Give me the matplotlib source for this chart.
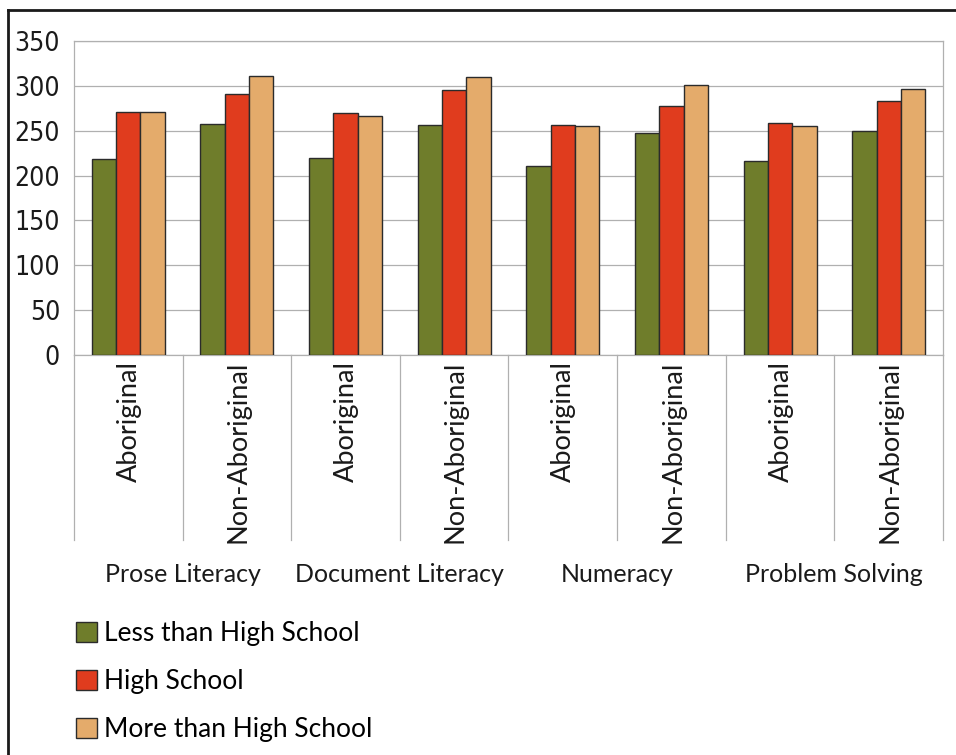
import matplotlib
matplotlib.use("Agg")
import matplotlib.pyplot as plt
from matplotlib.lines import Line2D
import numpy as np

# Literacy scores by skill domain, population group and education level
domains = ["Prose Literacy", "Document Literacy", "Numeracy", "Problem Solving"]
groups = ["Aboriginal", "Non-Aboriginal"]
series_names = ["Less than High School", "High School", "More than High School"]

less_than_hs = [219, 258, 220, 256, 211, 248, 216, 250]
high_school = [271, 291, 270, 295, 256, 278, 259, 283]
more_than_hs = [271, 311, 266, 310, 255, 301, 255, 297]

y_ticks = [0, 50, 100, 150, 200, 250, 300, 350]

colors = ["#6f7d2b", "#e03c1e", "#e4ab6b"]
grid_color = "#b0b0b0"

text_font = ["Lato", "DejaVu Sans"]

W, H = 956, 755
fig = plt.figure(figsize=(W / 100, H / 100), dpi=100)

ax_left, ax_right, ax_top, ax_bottom = 74, 943, 41, 355
ax = fig.add_axes([ax_left / W, 1 - ax_bottom / H,
                   (ax_right - ax_left) / W, (ax_bottom - ax_top) / H])

series = [less_than_hs, high_school, more_than_hs]
n = len(less_than_hs)
x = np.arange(n)
bw = 0.224
handles = []
for k, (vals, c, name) in enumerate(zip(series, colors, series_names)):
    b = ax.bar(x + (k - 1) * bw, vals, width=bw, color=c, edgecolor="#2b2b2b",
               linewidth=1.0, label=name, zorder=3)
    handles.append(b)

ax.set_xlim(-0.5, n - 0.5)
ax.set_ylim(0, 350)
ax.set_yticks(y_ticks)
ax.set_yticklabels([str(v) for v in y_ticks], fontfamily="DejaVu Sans",
                   fontstretch="condensed", fontsize=19, color="#1a1a1a")
ax.tick_params(axis="y", length=0, pad=10)
ax.set_xticks([])
ax.yaxis.grid(True, color=grid_color, linewidth=0.9, zorder=0)
for s in ax.spines.values():
    s.set_color(grid_color)
    s.set_linewidth(0.9)

# Dividers and rotated group labels below the axis
span = ax_bottom - ax_top
div_depth = (540 - ax_bottom) / span
for b in np.arange(n + 1) - 0.5:
    ax.add_line(Line2D([b, b], [0, -div_depth], transform=ax.get_xaxis_transform(),
                       color=grid_color, linewidth=0.9, clip_on=False))
for i in range(n):
    ax.text(i + 0.01, -(361 - ax_bottom) / span, groups[i % 2],
            transform=ax.get_xaxis_transform(), rotation=90, ha="center", va="top",
            fontfamily=text_font, fontsize=19.5, color="#1a1a1a")

# Domain labels centred under each pair
for j, d in enumerate(domains):
    ax.text(2 * j + 0.5, -(575 - ax_bottom) / span, d,
            transform=ax.get_xaxis_transform(), ha="center", va="center",
            fontfamily=text_font, fontsize=18, color="#1a1a1a")

# Legend
fig.legend(handles=handles, labels=series_names, loc="upper left",
           bbox_to_anchor=(76 / W, 1 - 621 / H), frameon=False,
           prop={"family": text_font, "size": 19},
           handlelength=0.78, handleheight=0.78, handletextpad=0.3,
           labelspacing=0.87, borderpad=0, borderaxespad=0)

# Outer frame (left and top edges)
fig.add_artist(Line2D([8 / W, 8 / W], [-0.1, 1 - 10 / H], transform=fig.transFigure,
                      color="#1a1a1a", linewidth=2))
fig.add_artist(Line2D([8 / W, 1.1], [1 - 10 / H, 1 - 10 / H], transform=fig.transFigure,
                      color="#1a1a1a", linewidth=2))

fig.savefig("out.png", dpi=100)
